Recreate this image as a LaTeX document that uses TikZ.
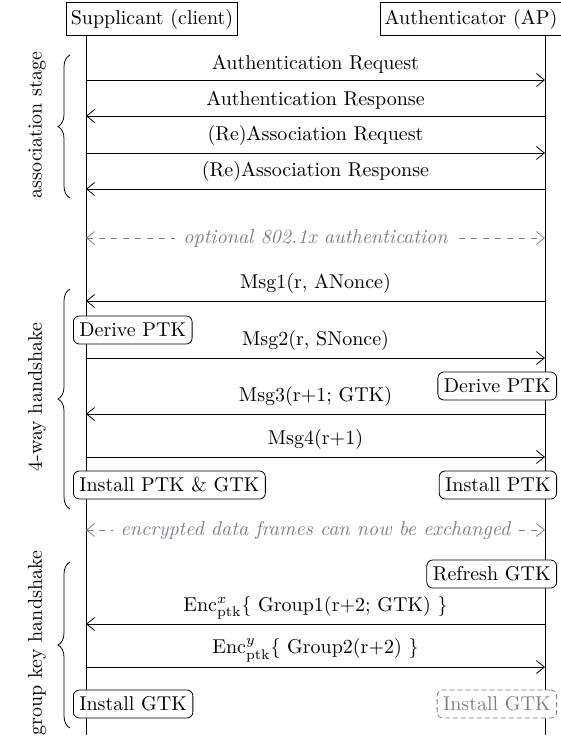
\documentclass[tikz,border=0pt]{standalone}
\usepackage{amsmath}
\usepackage{tikz}
\usetikzlibrary{arrows.meta,decorations.pathreplacing}
\definecolor{optgray}{RGB}{125,128,136}
\tikzset{
    actor/.style={draw,fill=white,minimum height=16pt,inner xsep=2pt},
    action/.style={draw,fill=white,rounded corners=3pt,minimum height=14pt,inner xsep=3pt,inner ysep=1pt},
    optaction/.style={action,draw=optgray,text=optgray,dash pattern=on 2.5pt off 1.5pt},
    msg/.style={-{Straight Barb[length=4pt,width=6.5pt]}},
    optmsg/.style={{Straight Barb[length=4pt,width=6.5pt]}-{Straight Barb[length=4pt,width=6.5pt]},optgray,dash pattern=on 3pt off 3pt},
    optlabel/.style={fill=white,inner xsep=4pt,font=\itshape},
    stage/.style={decorate,decoration={brace,amplitude=6pt}},
}

\begin{document}
\begin{tikzpicture}[x=0.5pt,y=-0.5pt]
    \useasboundingbox (0,0) rectangle (561,741);
    \node[actor] (sup) at (152,19) {Supplicant (client)};
    \node[actor] (auth) at (471,19) {Authenticator (AP)};
    \coordinate (supEnd) at (86,735);
    \coordinate (authEnd) at (545,735);
    \draw (sup.south -| supEnd) -- (supEnd);
    \draw (auth.south -| authEnd) -- (authEnd);
    % levels of the messages on both lifelines
    \foreach \m/\y in {req/80,resp/116,areq/153,aresp/189,opt/238,msga/301,msgb/358,msgc/414,msgd/457,enc/530,grpa/624,grpb/667}{
        \coordinate (\m S) at (86,\y);
        \coordinate (\m A) at (545,\y);
    }
    % association stage
    \draw[msg] (reqS) -- node[above] {Authentication Request} (reqA);
    \draw[msg] (respA) -- node[above] {Authentication Response} (respS);
    \draw[msg] (areqS) -- node[above] {(Re)Association Request} (areqA);
    \draw[msg] (arespA) -- node[above] {(Re)Association Response} (arespS);
    \draw[optmsg] (optS) -- node[optlabel] {optional 802.1x authentication} (optA);
    % 4-way handshake
    \draw[msg] (msgaA) -- node[above] {Msg1(r, ANonce)} (msgaS);
    \node[action,anchor=west] (derS) at (73,330) {Derive PTK};
    \draw[msg] (msgbS) -- node[above] {Msg2(r, SNonce)} (msgbA);
    \node[action,anchor=east] (derA) at (557,386) {Derive PTK};
    \draw[msg] (msgcA) -- node[above] {Msg3(r+1; GTK)} (msgcS);
    \draw[msg] (msgdS) -- node[above] {Msg4(r+1)} (msgdA);
    \node[action,anchor=west] (instS) at (73,485) {Install PTK \& GTK};
    \node[action,anchor=east] (instA) at (557,485) {Install PTK};
    \draw[optmsg] (encS) -- node[optlabel] {encrypted data frames can now be exchanged} (encA);
    % group key handshake
    \node[action,anchor=east] (refA) at (557,574) {Refresh GTK};
    \draw[msg] (grpaA) -- node[above,inner ysep=2pt] {Enc$^{x}_{\mathrm{ptk}}$\{ Group1(r+2; GTK) \}} (grpaS);
    \draw[msg] (grpbS) -- node[above,inner ysep=2pt] {Enc$^{y}_{\mathrm{ptk}}$\{ Group2(r+2) \}} (grpbA);
    \node[action,anchor=west] (gtkS) at (73,704) {Install GTK};
    \node[optaction,anchor=east] (gtkA) at (557,704) {Install GTK};
    % stages
    \draw[stage] (70,198) -- (70,55);
    \draw[stage] (70,509) -- (70,289);
    \draw[stage] (70,728) -- (70,562);
    \node[rotate=90] (assoc) at (37,125) {association stage};
    \node[rotate=90] (fourway) at (37,397) {4-way handshake};
    \node[rotate=90] (groupkey) at (37,643) {group key handshake};
\end{tikzpicture}
\end{document}
